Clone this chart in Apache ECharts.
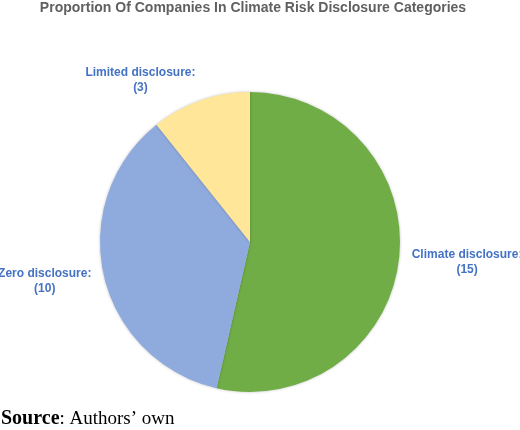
<!DOCTYPE html>
<html><head><meta charset="utf-8">
<script src="https://cdn.jsdelivr.net/npm/echarts@6/dist/echarts.min.js"></script>
<style>html,body{margin:0;padding:0;background:#fff}#c{width:520px;height:430px}</style>
</head><body><div id="c"></div>
<script>
const categories = ['Climate disclosure', 'Zero disclosure', 'Limited disclosure'];
const values = [15, 10, 3];
const colors = ['#70AD47', '#8FAADC', '#FFE699'];

const CX = 250, CY = 242, R = 150;
const labelOffsets = [[68, 3], [-59, 6], [-60, -20]];
const total = values.reduce((a, b) => a + b, 0);
const chart = echarts.init(document.getElementById('c'));
chart.setOption({
  animation: false,
  title: [{
    text: 'Proportion Of Companies In Climate Risk Disclosure Categories',
    left: 253, top: 1, textAlign: 'center', padding: 0,
    textStyle: { fontFamily: 'Liberation Sans, Arial', fontSize: 14, fontWeight: 'bold', color: '#606060' }
  }, {
    text: '{b|Source}{n|: Authors\u2019 own}',
    left: 1, top: 409, padding: 0,
    textStyle: { rich: {
      b: { fontFamily: 'Liberation Serif, Times New Roman', fontSize: 20, fontWeight: 'bold', color: '#000' },
      n: { fontFamily: 'Liberation Serif, Times New Roman', fontSize: 19, fontWeight: 'normal', color: '#000' }
    } }
  }],
  series: [{
    type: 'pie',
    center: [CX, CY], radius: R,
    startAngle: 90, clockwise: true,
    itemStyle: { shadowBlur: 3, shadowColor: 'rgba(0,0,0,0.25)' },
    label: {
      show: true, position: 'outside', overflow: 'none',
      formatter: p => p.name + ':\n(' + p.value + ')',
      fontFamily: 'Liberation Sans, Arial', fontSize: 12, fontWeight: 'bold',
      color: '#4472C4', lineHeight: 15, align: 'center'
    },
    labelLine: { show: false },
    labelLayout: function (p) {
      let cum = 0;
      for (let i = 0; i < p.dataIndex; i++) cum += values[i];
      const mid = (cum + values[p.dataIndex] / 2) / total * 2 * Math.PI;
      const off = labelOffsets[p.dataIndex];
      return { x: CX + R * Math.sin(mid) + off[0], y: CY - R * Math.cos(mid) + off[1], align: 'center', verticalAlign: 'middle' };
    },
    data: categories.map((c, i) => ({ name: c, value: values[i], itemStyle: { color: colors[i] } }))
  }]
});
</script></body></html>
